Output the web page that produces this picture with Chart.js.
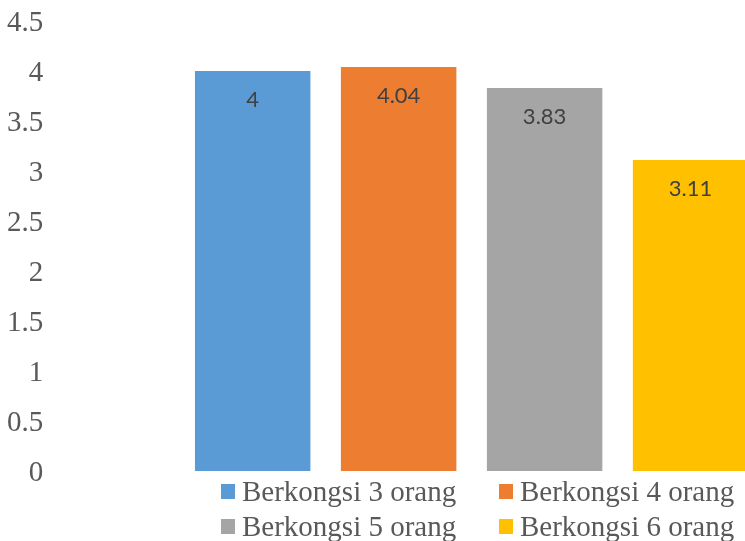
<!DOCTYPE html>
<html lang="id">
<head>
<meta charset="UTF-8">
<title>Berkongsi</title>
<script src="https://cdn.jsdelivr.net/npm/chart.js"></script>
<style>
  html, body { margin: 0; padding: 0; background: #fff; }
  #frame { position: relative; width: 745px; height: 541px; overflow: hidden; }
  #chart { position: absolute; left: 0; top: 0; }
  .legend-item {
    position: absolute;
    display: flex;
    align-items: center;
    height: 34px;
    font-family: "Liberation Serif", "Times New Roman", serif;
    font-size: 29px;
    color: #595959;
    white-space: nowrap;
  }
  .legend-box { width: 14px; height: 15px; margin-right: 7px; }
</style>
</head>
<body>
<div id="frame">
  <canvas id="chart" width="900" height="541"></canvas>
  <div id="legend"></div>
</div>
<script>
// data
const categories = [''];
const seriesNames = ['Berkongsi 3 orang', 'Berkongsi 4 orang', 'Berkongsi 5 orang', 'Berkongsi 6 orang'];
const seriesValues = [4, 4.04, 3.83, 3.11];
const seriesColors = ['#5B9BD5', '#ED7D31', '#A5A5A5', '#FFC000'];
const yTicks = [0, 0.5, 1, 1.5, 2, 2.5, 3, 3.5, 4, 4.5];

// value labels inside the top of each bar
const barLabels = {
  id: 'barLabels',
  afterDatasetsDraw(chart) {
    const ctx = chart.ctx;
    ctx.save();
    ctx.font = '22px Lato, "Open Sans", sans-serif';
    ctx.fillStyle = '#404040';
    ctx.textAlign = 'center';
    ctx.textBaseline = 'middle';
    chart.data.datasets.forEach((ds, i) => {
      const bar = chart.getDatasetMeta(i).data[0];
      ctx.fillText(String(ds.data[0]), bar.x, bar.y + 29);
    });
    ctx.restore();
  }
};

const datasets = seriesNames.map((name, i) => ({
  label: name,
  data: [seriesValues[i]],
  backgroundColor: seriesColors[i],
  borderWidth: 0
}));

new Chart(document.getElementById('chart'), {
  type: 'bar',
  data: { labels: categories, datasets: datasets },
  options: {
    responsive: false,
    animation: false,
    categoryPercentage: 0.692,
    barPercentage: 0.791,
    layout: { padding: { left: 0.5, right: 6.5, top: 21, bottom: 70 } },
    plugins: {
      legend: { display: false },
      tooltip: { enabled: false }
    },
    scales: {
      x: { display: false },
      y: {
        min: 0,
        max: 4.5,
        afterBuildTicks: (axis) => { axis.ticks = yTicks.map(v => ({ value: v })); },
        grid: { display: false, drawTicks: false },
        border: { display: false },
        ticks: {
          padding: 6.5,
          labelOffset: 2,
          color: '#595959',
          font: { family: '"Liberation Serif", "Times New Roman", serif', size: 29, lineHeight: 1 },
          callback: (v) => String(v)
        }
      }
    }
  },
  plugins: [barLabels]
});

// legend, 2 x 2 like the original
const legendPos = [[221, 474.5], [499, 474.5], [221, 509.5], [499, 509.5]];
const legend = document.getElementById('legend');
seriesNames.forEach((name, i) => {
  const item = document.createElement('div');
  item.className = 'legend-item';
  item.style.left = legendPos[i][0] + 'px';
  item.style.top = legendPos[i][1] + 'px';
  const box = document.createElement('span');
  box.className = 'legend-box';
  box.style.background = seriesColors[i];
  item.appendChild(box);
  item.appendChild(document.createTextNode(name));
  legend.appendChild(item);
});
</script>
</body>
</html>
